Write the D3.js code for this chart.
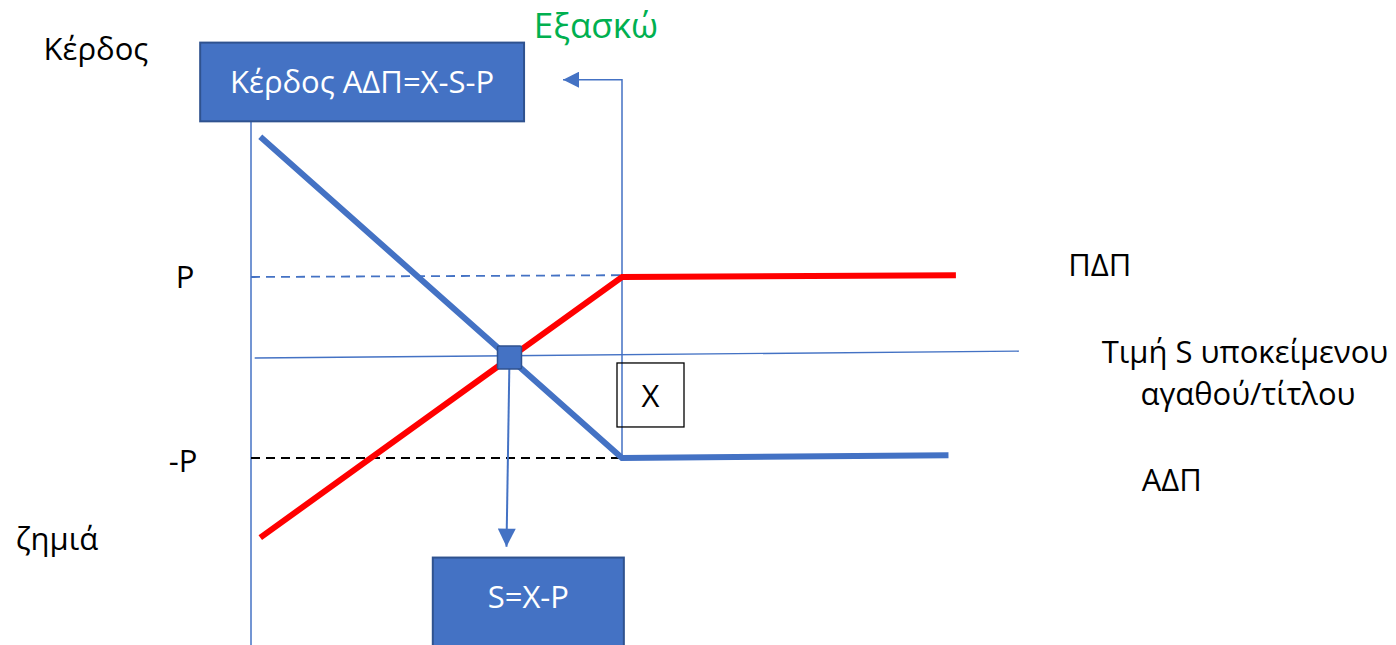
<!DOCTYPE html>
<html>
<head>
<meta charset="utf-8">
<script src="https://cdn.jsdelivr.net/npm/d3@7"></script>
<style>
  html, body { margin: 0; padding: 0; background: #fff; }
  svg { display: block; }
  text { font-family: "Open Sans", "Noto Sans", sans-serif; }
</style>
</head>
<body>
<div id="container"></div>
<script>
// ---------- DATA (S in units where strike X = 10, profit in units of premium P) ----------
const strike = 10;
const premium = 1;
const callPayoff = [[0.25, -1.88], [10, 1], [19.0, 1.02]];     // ΠΔΠ (red)
const putPayoff = [[0.25, 2.55], [10, -1], [18.8, -0.97]];     // ΑΔΠ (blue)
const sAxis = [[0.1, 0.105], [20.7, 0.18]];
const exerciseLine = [[10, -1], [10, 3.18], [8.41, 3.18]];
const yLabels = [{ text: 'P', s: -1.78, v: 0.88 }, { text: '-P', s: -1.83, v: -1.16 }];
const sideLabels = [
    { text: 'Κέρδος', s: -4.18, v: 3.40 },
    { text: 'ζημιά', s: -5.23, v: -2.02 },
    { text: 'ΠΔΠ', s: 22.88, v: 1.01 },
    { text: 'ΑΔΠ', s: 24.82, v: -1.36 }
];
const boxes = [
    { text: 'Κέρδος ΑΔΠ=Χ-S-P', s0: -1.37, s1: 7.36, v0: 3.59, v1: 2.72, tv: 3.03 },
    { text: 'S=X-P', s0: 4.9, s1: 10.05, v0: -2.1, v1: -3.2, tv: -2.66 }
];

// ---------- DIMENSIONS & SCALES ----------
const width = 1396;
const height = 645;
const x = d3.scaleLinear().domain([0, strike]).range([251, 622]);
const y = d3.scaleLinear().domain([-premium, premium]).range([458, 277]);

const blue = '#4472c4';
const blueDark = '#2f528f';
const red = '#ff0000';
const fs = 31;

const svg = d3.create('svg')
    .attr('width', width)
    .attr('height', height);

const defs = svg.append('defs');
function marker(id, w, h) {
    defs.append('marker')
        .attr('id', id)
        .attr('viewBox', '0 0 10 10')
        .attr('refX', 10)
        .attr('refY', 5)
        .attr('markerWidth', w)
        .attr('markerHeight', h)
        .attr('markerUnits', 'userSpaceOnUse')
        .attr('orient', 'auto')
        .append('path')
        .attr('d', 'M0,0 L10,5 L0,10 Z')
        .attr('fill', blue);
}
marker('arrowL', 20, 16);
marker('arrowD', 19, 18);

const line = d3.line().x(d => x(d[0])).y(d => y(d[1]));

// ---------- PROFIT AXIS ----------
svg.append('line')
    .attr('x1', x(0)).attr('x2', x(0))
    .attr('y1', y(2.72)).attr('y2', height)
    .attr('stroke', blue).attr('stroke-width', 1.5);

// ---------- S AXIS ----------
svg.append('path')
    .attr('d', line(sAxis))
    .attr('fill', 'none')
    .attr('stroke', blue).attr('stroke-width', 1.3);

// ---------- P / -P DASHED GUIDES ----------
svg.append('line')
    .attr('x1', x(0)).attr('x2', x(strike))
    .attr('y1', y(premium)).attr('y2', y(premium + 0.02))
    .attr('stroke', blue).attr('stroke-width', 1.8)
    .attr('stroke-dasharray', '9,6');

svg.append('line')
    .attr('x1', x(0)).attr('x2', x(strike))
    .attr('y1', y(-premium)).attr('y2', y(-premium))
    .attr('stroke', '#000').attr('stroke-width', 2)
    .attr('stroke-dasharray', '9,6');

// ---------- EXERCISE CONNECTOR ----------
svg.append('path')
    .attr('d', line(exerciseLine))
    .attr('fill', 'none')
    .attr('stroke', blue).attr('stroke-width', 1.5)
    .attr('marker-end', 'url(#arrowL)');

// ---------- PAYOFF LINES ----------
svg.append('path')
    .attr('d', line(callPayoff))
    .attr('fill', 'none')
    .attr('stroke', red).attr('stroke-width', 6)
    .attr('stroke-linejoin', 'miter');

svg.append('path')
    .attr('d', line(putPayoff))
    .attr('fill', 'none')
    .attr('stroke', blue).attr('stroke-width', 6)
    .attr('stroke-linejoin', 'miter');

// ---------- BREAK-EVEN POINT ----------
function intersect(a0, a1, b0, b1) {
    const ma = (a1[1] - a0[1]) / (a1[0] - a0[0]);
    const mb = (b1[1] - b0[1]) / (b1[0] - b0[0]);
    const s = (b0[1] - a0[1] + ma * a0[0] - mb * b0[0]) / (ma - mb);
    return [s, a0[1] + ma * (s - a0[0])];
}
const be = intersect(callPayoff[0], callPayoff[1], putPayoff[0], putPayoff[1]);

svg.append('line')
    .attr('x1', x(be[0])).attr('x2', x(be[0]) - 3)
    .attr('y1', y(be[1])).attr('y2', y(-1.98))
    .attr('stroke', blue).attr('stroke-width', 2)
    .attr('marker-end', 'url(#arrowD)');

svg.append('rect')
    .attr('x', x(be[0]) - 12).attr('y', y(be[1]) - 12)
    .attr('width', 24).attr('height', 23)
    .attr('rx', 1.5)
    .attr('fill', blue).attr('stroke', blueDark).attr('stroke-width', 1.5);

// ---------- X BOX ----------
svg.append('rect')
    .attr('x', x(strike) - 5).attr('y', y(0.05))
    .attr('width', 67).attr('height', 64)
    .attr('fill', 'none').attr('stroke', '#000').attr('stroke-width', 1.3);
svg.append('text')
    .attr('x', x(strike) + 28.5).attr('y', y(0.05) + 44)
    .attr('text-anchor', 'middle')
    .attr('font-size', fs)
    .text('X');

// ---------- BOXES ----------
const bx = svg.selectAll('g.box').data(boxes).join('g').attr('class', 'box');
bx.append('rect')
    .attr('x', d => x(d.s0)).attr('y', d => y(d.v0))
    .attr('width', d => x(d.s1) - x(d.s0))
    .attr('height', d => y(d.v1) - y(d.v0))
    .attr('fill', blue).attr('stroke', blueDark).attr('stroke-width', 2);
bx.append('text')
    .attr('x', d => (x(d.s0) + x(d.s1)) / 2)
    .attr('y', d => y(d.tv))
    .attr('text-anchor', 'middle')
    .attr('font-size', fs)
    .attr('fill', '#fff')
    .text(d => d.text);

// ---------- LABELS ----------
svg.selectAll('text.ylab').data(yLabels).join('text')
    .attr('class', 'ylab')
    .attr('x', d => x(d.s)).attr('y', d => y(d.v))
    .attr('text-anchor', 'middle')
    .attr('font-size', fs)
    .text(d => d.text);

svg.selectAll('text.side').data(sideLabels).join('text')
    .attr('class', 'side')
    .attr('x', d => x(d.s)).attr('y', d => y(d.v))
    .attr('text-anchor', 'middle')
    .attr('font-size', fs)
    .text(d => d.text);

const sLabel = svg.append('text')
    .attr('y', 363)
    .attr('text-anchor', 'middle')
    .attr('font-size', fs);
sLabel.append('tspan').attr('x', 1245).text('Τιμή S υποκείμενου');
sLabel.append('tspan').attr('x', 1248).attr('dy', 42).text('αγαθού/τίτλου');

svg.append('text')
    .attr('x', x(strike) - 26).attr('y', 38)
    .attr('text-anchor', 'middle')
    .attr('font-family', 'Liberation Sans, Arial, sans-serif')
    .attr('font-size', 35)
    .attr('fill', '#00b050')
    .text('Εξασκώ');

document.getElementById('container').append(svg.node());
</script>
</body>
</html>
